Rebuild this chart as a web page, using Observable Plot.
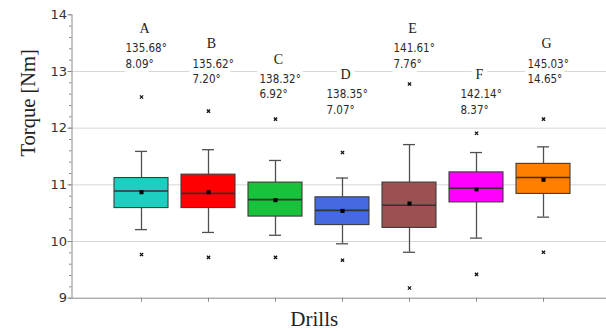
<!DOCTYPE html>
<html>
<head>
<meta charset="utf-8">
<script src="https://cdn.jsdelivr.net/npm/d3@7"></script>
<script src="https://cdn.jsdelivr.net/npm/@observablehq/plot@0.6"></script>
<style>
  html, body { margin: 0; padding: 0; background: #fff; }
</style>
</head>
<body>
<div id="chart"></div>
<script>
// Torque distribution per drill (box plot), with point-angle mean and spread per drill
const drills = ["A", "B", "C", "D", "E", "F", "G"];
const boxColors = ["#1ccfc0", "#ff0000", "#18c23a", "#4469e1", "#9b5151", "#ff00ff", "#ff8000"];

const whiskerLow  = [10.21, 10.16, 10.11, 9.96, 9.81, 10.06, 10.43];
const q1          = [10.59, 10.59, 10.44, 10.29, 10.24, 10.69, 10.84];
const median      = [10.89, 10.85, 10.74, 10.55, 10.64, 10.94, 11.13];
const q3          = [11.12, 11.18, 11.04, 10.78, 11.04, 11.22, 11.37];
const whiskerHigh = [11.59, 11.62, 11.43, 11.12, 11.71, 11.57, 11.67];
const mean        = [10.87, 10.87, 10.73, 10.54, 10.67, 10.92, 11.09];
const outlierLow  = [9.77, 9.72, 9.72, 9.67, 9.18, 9.42, 9.81];
const outlierHigh = [12.55, 12.30, 12.16, 11.57, 12.78, 11.91, 12.16];

const angleMean = ["135.68°", "135.62°", "138.32°", "138.35°", "141.61°", "142.14°", "145.03°"];
const angleSd   = ["8.09°", "7.20°", "6.92°", "7.07°", "7.76°", "8.37°", "14.65°"];
// staggered rows for the drill annotations so they do not collide
const labelTier = [0, 1, 2, 3, 0, 3, 1];

const yTicks = [9, 10, 11, 12, 13, 14];
const yMinorTicks = d3.range(45, 71).map(k => k / 5);
const gridValues = [10, 11, 12, 13];

const rows = drills.map((drill, i) => ({
  drill,
  lo: whiskerLow[i], q1: q1[i], median: median[i], q3: q3[i], hi: whiskerHigh[i],
  mean: mean[i], outLo: outlierLow[i], outHi: outlierHigh[i],
  angles: angleMean[i] + "\n" + angleSd[i], tier: labelTier[i]
}));

const axisGray = "#8a8a8a";
const whiskerGray = "#505050";
const halo = {stroke: "white", strokeWidth: 9, paintOrder: "stroke"};

const labelMarks = [0, 1, 2, 3].flatMap(tier => {
  const sub = rows.filter(d => d.tier === tier);
  return [
    Plot.text(sub, {
      x: "drill", text: "drill", frameAnchor: "top", dx: 3, dy: 13.7 + tier * 15.3,
      lineAnchor: "middle", fontFamily: "Liberation Serif", fontSize: 14, fill: "#222", ...halo
    }),
    Plot.text(sub, {
      x: "drill", text: "angles", frameAnchor: "top", dx: -16, dy: 40.2 + tier * 15.3,
      textAnchor: "start", lineAnchor: "middle", lineHeight: 1.35,
      fontFamily: "DejaVu Sans Condensed, DejaVu Sans", fontSize: 11.5, fill: "#2a2a2a", ...halo
    })
  ];
});

const chart = Plot.plot({
  width: 606,
  height: 331,
  marginLeft: 71.5,
  marginRight: 0,
  marginTop: 14.3,
  marginBottom: 33.3,
  style: {fontFamily: "DejaVu Sans", background: "white"},
  x: {type: "band", domain: drills, paddingInner: 0.2, paddingOuter: 0.553, align: 0.537, axis: null},
  y: {domain: [9, 14], axis: null},
  color: {domain: drills, range: boxColors},
  marks: [
    Plot.ruleY(gridValues, {stroke: "#d6d6d6", strokeWidth: 1}),
    Plot.axisY({ticks: yMinorTicks, tickSize: 2.5, tickFormat: () => "", label: null, stroke: axisGray}),
    Plot.axisY({
      ticks: yTicks, tickSize: 4, tickPadding: 1, tickFormat: d => d, label: null,
      stroke: axisGray, fill: "#333", fontSize: 13, fontFamily: "DejaVu Sans"
    }),
    Plot.axisX({tickSize: 4, tickFormat: () => "", label: null, stroke: axisGray}),
    Plot.frame({anchor: "left", stroke: axisGray}),
    Plot.ruleY([9], {stroke: axisGray}),
    // whiskers and caps
    Plot.ruleX(rows, {x: "drill", y1: "lo", y2: "q1", stroke: whiskerGray, strokeWidth: 1.3}),
    Plot.ruleX(rows, {x: "drill", y1: "q3", y2: "hi", stroke: whiskerGray, strokeWidth: 1.3}),
    Plot.tickY(rows, {x: "drill", y: "lo", insetLeft: 21, insetRight: 21, stroke: whiskerGray, strokeWidth: 1.3}),
    Plot.tickY(rows, {x: "drill", y: "hi", insetLeft: 21, insetRight: 21, stroke: whiskerGray, strokeWidth: 1.3}),
    // interquartile boxes, median and mean
    Plot.barY(rows, {x: "drill", y1: "q1", y2: "q3", fill: "drill", stroke: "#3c3c3c", strokeWidth: 1.1}),
    Plot.tickY(rows, {x: "drill", y: "median", stroke: "#333", strokeWidth: 1.6}),
    Plot.dot(rows, {x: "drill", y: "mean", symbol: "square", r: 2.3, fill: "#000"}),
    // outliers
    Plot.dot(rows, {x: "drill", y: "outLo", symbol: "times", r: 1.6, stroke: "#111", strokeWidth: 1.3}),
    Plot.dot(rows, {x: "drill", y: "outHi", symbol: "times", r: 1.6, stroke: "#111", strokeWidth: 1.3}),
    ...labelMarks,
    // axis titles
    Plot.text(["Torque [Nm]"], {
      text: d => d, frameAnchor: "left", dx: -44, rotate: -90, lineAnchor: "middle",
      fontFamily: "Liberation Serif", fontSize: 20.5, fill: "#222"
    }),
    Plot.text(["Drills"], {
      text: d => d, frameAnchor: "bottom", dx: -25, dy: 21, lineAnchor: "middle",
      fontFamily: "Liberation Serif", fontSize: 21, fill: "#222"
    })
  ]
});

document.getElementById("chart").append(chart);
</script>
</body>
</html>
